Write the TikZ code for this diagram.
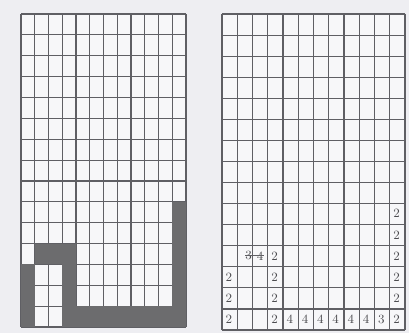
\documentclass[tikz,border=0pt]{standalone}
\usepackage{xcolor}
\usepackage{tikz}
\usetikzlibrary{positioning,calc}
\definecolor{papier}{RGB}{238,238,242}
\definecolor{case}{RGB}{247,247,249}
\definecolor{trait}{RGB}{95,95,100}
\definecolor{ombre}{RGB}{108,108,110}

\begin{document}
\begin{tikzpicture}[x=0.025cm, y=-0.025cm, every node/.style={font=\small, text=trait!80!black, inner sep=0pt}]
    \useasboundingbox (0,0) rectangle (409,333);
    \fill[papier] (0,0) rectangle (409,333);
    \begin{scope}[shift={(21,14)}, xscale=13.75, yscale=20.87]
      \fill[case] (0,0) rectangle (12,15);
      \foreach \i in {0,...,12} \draw[trait, line width=0.8pt] (\i,0) -- (\i,15);
      \foreach \j in {0,...,15} \draw[trait, line width=0.8pt] (0,\j) -- (12,\j);
      \fill[ombre] (0,12) rectangle (1,15);
      \fill[ombre] (1,11) rectangle (4,12);
      \fill[ombre] (3,11) rectangle (4,15);
      \fill[ombre] (3,14) rectangle (12,15);
      \fill[ombre] (11,9) rectangle (12,15);
    \end{scope}
    \begin{scope}[shift={(222,14)}, xscale=15.25, yscale=21.07]
      \fill[case] (0,0) rectangle (12,15);
      \foreach \i in {0,...,12} \draw[trait, line width=0.8pt] (\i,0) -- (\i,15);
      \foreach \j in {0,...,15} \draw[trait, line width=0.8pt] (0,\j) -- (12,\j);
      \foreach \c/\r/\v in {12/10/2, 12/11/2, 12/12/2, 12/13/2, 12/14/2, 12/15/2,
                            1/13/2, 1/14/2, 1/15/2, 4/12/2, 4/13/2, 4/14/2, 4/15/2,
                            5/15/4, 6/15/4, 7/15/4, 8/15/4, 9/15/4, 10/15/4, 11/15/3}
        \node (n\c-\r) at (\c-0.55,\r-0.52) {\v};
      \node (s3) at (1.75,11.48) {3};
      \node (s4) at (2.5,11.48) {4};
      \draw[trait, line width=0.5pt] (s3.west) -- (s4.east);
    \end{scope}
  \end{tikzpicture}
\end{document}
